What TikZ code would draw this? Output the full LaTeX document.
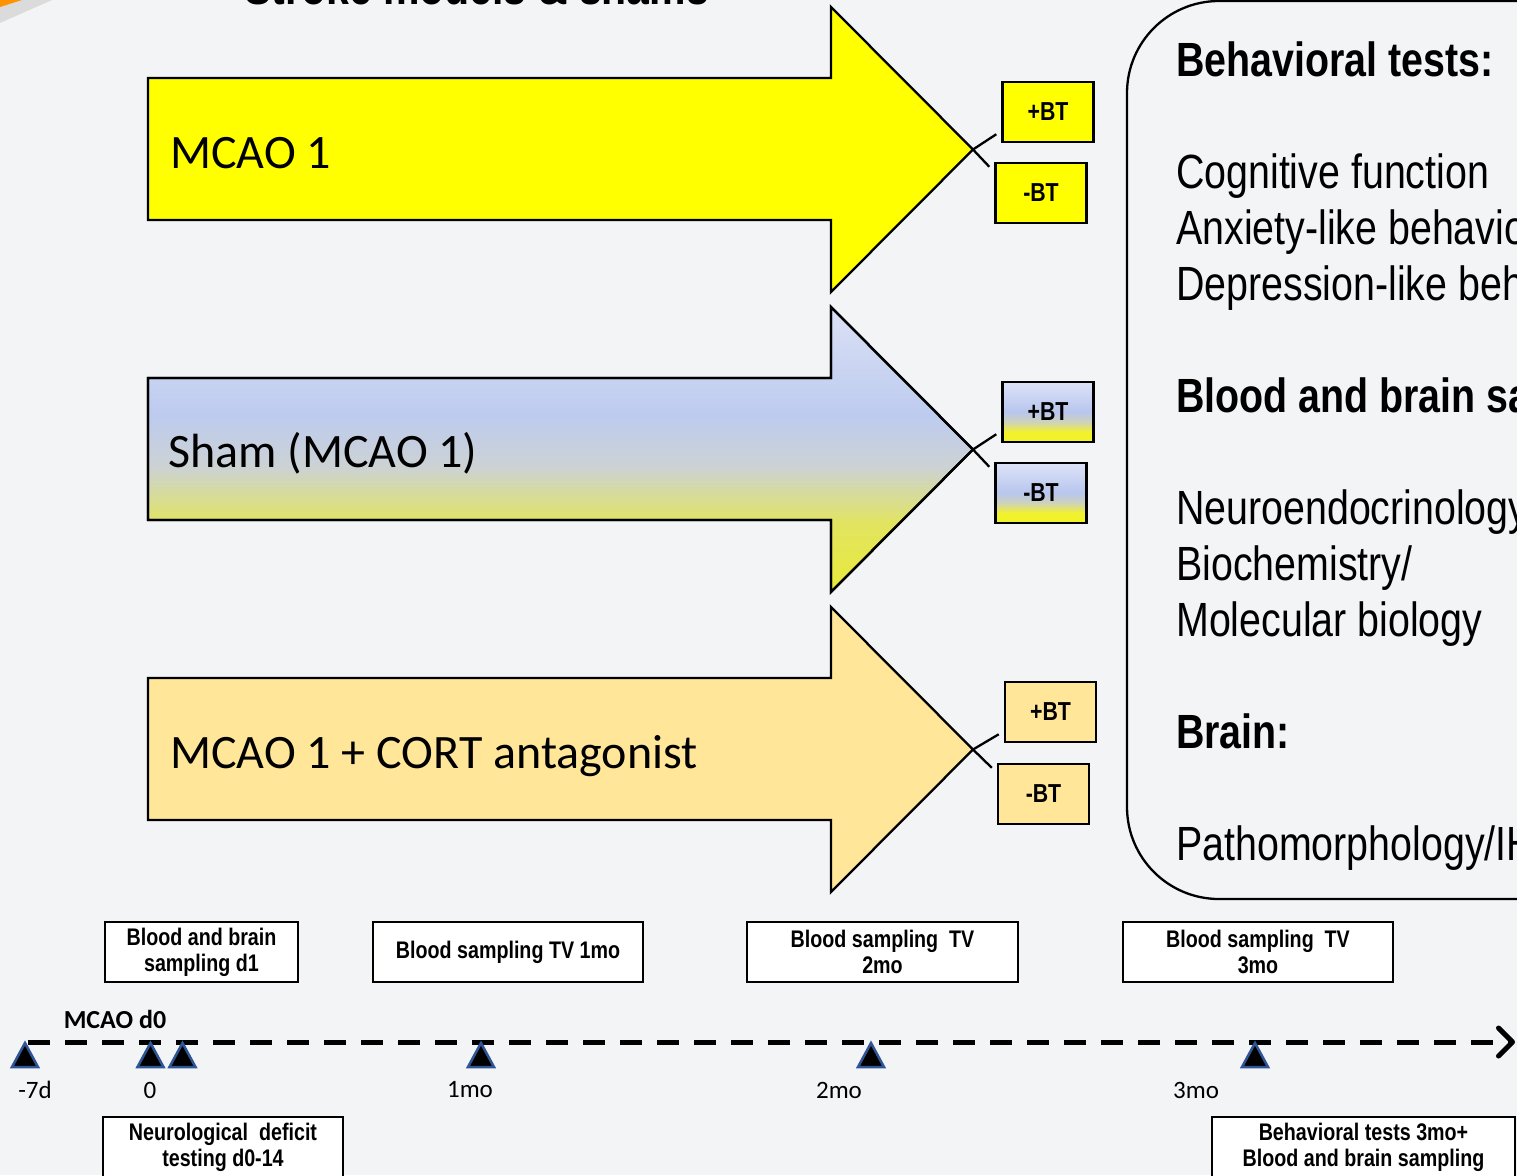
\documentclass[tikz,border=0pt]{standalone}
\usepackage{fontspec}
\setmainfont{Carlito}
\newfontfamily\narrow[FakeStretch=0.82]{Liberation Sans}
\usetikzlibrary{arrows.meta,calc}
\definecolor{bg}{RGB}{243,244,246}
\definecolor{mcaoY}{RGB}{255,255,0}
\definecolor{cortO}{RGB}{255,230,153}
\definecolor{triB}{RGB}{47,85,151}
\definecolor{shY}{RGB}{232,234,58}
\definecolor{shY2}{RGB}{226,228,96}
\definecolor{shG}{RGB}{204,210,212}
\definecolor{shB}{RGB}{189,203,239}
\definecolor{shL}{RGB}{219,225,245}
\definecolor{bxY}{RGB}{242,242,42}
\definecolor{bxG}{RGB}{205,210,190}
\definecolor{bxB}{RGB}{184,198,238}
\definecolor{bxL}{RGB}{221,226,247}
\pgfdeclareverticalshading{shamarrow}{100bp}{color(0bp)=(shY); color(25bp)=(shY); color(37bp)=(shY2); color(47bp)=(shG); color(56bp)=(shB); color(75bp)=(shL); color(100bp)=(shL)}
\pgfdeclareverticalshading{shambox}{100bp}{color(0bp)=(bxY); color(25bp)=(bxY); color(33bp)=(bxY); color(42bp)=(bxG); color(50bp)=(bxB); color(75bp)=(bxL); color(100bp)=(bxL)}
\tikzset{
  bigarrow/.style={draw=black, line width=2.3pt, line join=miter},
  btbox/.style={draw=black, line width=2.5pt, minimum width=91pt, minimum height=60pt, inner sep=0pt, font=\narrow\bfseries\fontsize{26}{28}\selectfont},
  tlbox/.style={draw=black, fill=white, line width=2.5pt, minimum height=60pt, inner sep=0pt, align=center, font=\narrow\bfseries\fontsize{24}{26}\selectfont},
  armlabel/.style={anchor=base west, inner sep=0pt, font=\fontsize{48}{56}\selectfont},
  paneltext/.style={anchor=base west, inner sep=0pt, font=\narrow\fontsize{48}{56}\selectfont},
  panelhead/.style={anchor=base west, inner sep=0pt, font=\narrow\bfseries\fontsize{48}{56}\selectfont},
  ticklabel/.style={inner sep=0pt, font=\fontsize{25}{28}\selectfont},
  connector/.style={draw=black, line width=2.3pt},
  tri/.style={fill=black, draw=triB, line width=2.5pt, line join=miter},
  timeline/.style={draw=black, line width=5pt, dash pattern=on 22pt off 15pt, line cap=butt}
}
\newcommand\ticktri[1]{\filldraw[tri] (#1,1043) -- (#1+13,1067) -- (#1-13,1067) -- cycle;}
\begin{document}
\begin{tikzpicture}[x=1pt,y=-1pt]
\useasboundingbox (0,0) rectangle (1517,1175);
\fill[bg] (0,0) rectangle (1517,1175);
% corner decoration
\fill[gray!28] (0,0) -- (52,0) -- (0,23) -- cycle;
\fill[orange!85!yellow] (0,0) -- (22,0) -- (0,7) -- cycle;
% title (mostly cut off)
\node[anchor=base west, inner sep=0pt, font=\narrow\bfseries\fontsize{50}{56}\selectfont] (title) at (244,5) {Stroke models \& shams};

% big arrows
\path[bigarrow, fill=mcaoY] (148,78) -- (831,78) -- (831,7) -- (973,149.5) -- (831,292) -- (831,220) -- (148,220) -- cycle;
\path[bigarrow, shading=shamarrow] (148,378) -- (831,378) -- (831,307) -- (973,449.5) -- (831,592) -- (831,520) -- (148,520) -- cycle;
\draw[bigarrow] (148,378) -- (831,378) -- (831,307) -- (973,449.5) -- (831,592) -- (831,520) -- (148,520) -- cycle;
\path[bigarrow, fill=cortO] (148,678) -- (831,678) -- (831,607) -- (973,749.5) -- (831,892) -- (831,820) -- (148,820) -- cycle;
\coordinate (tip1) at (973,149.5);
\coordinate (tip2) at (973,449.5);
\coordinate (tip3) at (973,749.5);

\node[armlabel] (lab1) at (170,168) {MCAO 1};
\node[armlabel] (lab2) at (168,467) {Sham (MCAO 1)};
\node[armlabel] (lab3) at (170,768) {MCAO 1 + CORT antagonist};

% BT boxes
\node[btbox, fill=mcaoY] (p1) at (1048,112) {+BT};
\node[btbox, fill=mcaoY] (m1) at (1041,193) {-BT};
\node[btbox, shading=shambox] (p2) at (1048,412) {+BT};
\node[btbox, shading=shambox] (m2) at (1041,493) {-BT};
\node[btbox, fill=cortO] (p3) at (1050.5,712) {+BT};
\node[btbox, fill=cortO] (m3) at (1043.5,794) {-BT};
\foreach \i in {1,2,3}{
  \draw[connector] (tip\i) -- ([xshift=-5pt,yshift=9pt]p\i.south west);
  \draw[connector] (tip\i) -- ([xshift=-5pt,yshift=-5pt]m\i.north west);
}

% right panel
\draw[line width=2.3pt, rounded corners=92pt] (1127,1) rectangle (1640,899);
\node[panelhead] (h1) at (1176,76) {Behavioral tests:};
\node[paneltext] (t1) at (1176,188) {Cognitive function};
\node[paneltext] (t2) at (1176,244) {Anxiety-like behavior};
\node[paneltext] (t3) at (1176,300) {Depression-like behavior};
\node[panelhead] (h2) at (1176,412) {Blood and brain sampling:};
\node[paneltext] (t4) at (1176,524) {Neuroendocrinology/};
\node[paneltext] (t5) at (1176,580) {Biochemistry/};
\node[paneltext] (t6) at (1176,636) {Molecular biology};
\node[panelhead] (h3) at (1176,748) {Brain:};
\node[paneltext] (t7) at (1176,860) {Pathomorphology/IHC};

% timeline boxes
\node[tlbox, minimum width=193pt] (b1) at (201.5,952) {Blood and brain\\sampling d1};
\node[tlbox, minimum width=270pt] (b2) at (508,952) {Blood sampling TV 1mo};
\node[tlbox, minimum width=271pt] (b3) at (882.5,952) {Blood sampling~~TV\\2mo};
\node[tlbox, minimum width=270pt] (b4) at (1258,952) {Blood sampling~~TV\\3mo};
\node[tlbox, minimum width=240pt] (b5) at (223,1147) {Neurological~~deficit\\testing d0-14};
\node[tlbox, minimum width=303pt] (b6) at (1363.5,1147) {Behavioral tests 3mo+\\Blood and brain sampling};

% timeline
\coordinate (tl0) at (28,1042);
\coordinate (tl1) at (1515,1042);
\draw[timeline, -{Straight Barb[round, length=14pt, width=28pt]}] (tl0) -- (tl1);
\ticktri{25}
\ticktri{150.5}
\ticktri{182.5}
\ticktri{481}
\ticktri{871}
\ticktri{1255}
\node[inner sep=0pt, font=\bfseries\fontsize{26}{28}\selectfont] (d0) at (115,1019) {MCAO d0};
\node[ticklabel] (k1) at (35,1090) {-7d};
\node[ticklabel] (k2) at (150,1090) {0};
\node[ticklabel] (k3) at (470,1090) {1mo};
\node[ticklabel] (k4) at (839,1090) {2mo};
\node[ticklabel] (k5) at (1196,1090) {3mo};
\end{tikzpicture}
\end{document}
